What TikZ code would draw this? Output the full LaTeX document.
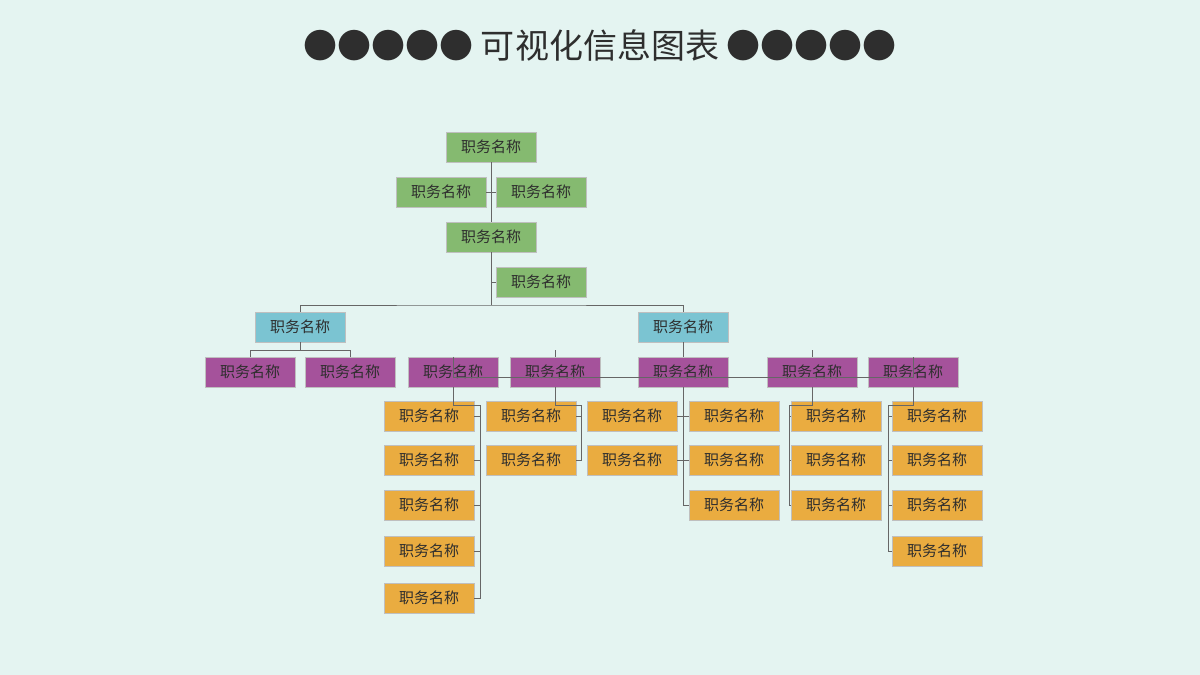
\documentclass[tikz,border=0pt]{standalone}
\usepackage{fontspec}
\newfontfamily\cjk{Noto Sans CJK SC}
\usepackage{tikz}
\usetikzlibrary{positioning}
\definecolor{bgc}{HTML}{E4F4F1}
\definecolor{grn}{HTML}{85BA70}
\definecolor{blu}{HTML}{7BC4D2}
\definecolor{pur}{HTML}{A5529B}
\definecolor{org}{HTML}{EAAC40}
\definecolor{txt}{HTML}{2E2E2E}
\tikzset{
  job/.style = {rectangle, minimum width=90pt, minimum height=30pt, inner sep=0pt,
    font=\cjk\fontsize{15}{15}\selectfont, text=txt, draw=black!25},
  job_g/.style = {job, fill=grn},% green
  job_b/.style = {job, fill=blu},% blue
  job_p/.style = {job, fill=pur},% purple
  job_o/.style = {job, fill=org},% orange
  link/.style = {draw=black!60, line width=0.9pt}
}
\begin{document}
\begin{tikzpicture}[x=1pt,y=-1pt]
\fill[bgc] (0,0) rectangle (1200,675);
\node[font=\cjk\fontsize{34}{34}\selectfont, text=txt] (title) at (600,45) {●●●●●\ 可视化信息图表\ ●●●●●};
% top
\node[job_g] (g1) at (491,147) {职务名称};
\node[job_g] (g2) at (441,192) {职务名称};
\node[job_g] (g3) at (541,192) {职务名称};
\node[job_g] (g4) at (491,237) {职务名称};
\node[job_g] (g5) at (541,282) {职务名称};
\node[job_b] (b1) at (300,327) {职务名称};
\node[job_b] (b2) at (683,327) {职务名称};
\foreach \n/\x in {1/250,2/350,3/453,4/555,5/683,6/812,7/913}
  \node[job_p] (p\n) at (\x,372) {职务名称};
% orange
\foreach \i/\y in {1/416,2/460,3/505,4/551,5/598}
  \node[job_o] (c3\i) at (429,\y) {职务名称};
\foreach \i/\y in {1/416,2/460}
  \node[job_o] (c4\i) at (531,\y) {职务名称};
\foreach \i/\y in {1/416,2/460}
  \node[job_o] (c5l\i) at (632,\y) {职务名称};
\foreach \i/\y in {1/416,2/460,3/505}
  \node[job_o] (c5r\i) at (734,\y) {职务名称};
\foreach \i/\y in {1/416,2/460,3/505}
  \node[job_o] (c6\i) at (836,\y) {职务名称};
\foreach \i/\y in {1/416,2/460,3/505,4/551}
  \node[job_o] (c7\i) at (937,\y) {职务名称};

\coordinate (hub) at (491,305);
\begin{scope}[on background layer/.style={}]
\draw[link] (g1) -- (g4) -- (hub);
\draw[link] (g2) -- (g3);
\draw[link] (g5.west) -| (hub);
\draw[link] (b1.north) |- (hub) -| (b2.north);
\draw[link] (b1.south) -- ++(0,8) coordinate (bl);
\draw[link] (p1.north) |- (bl) -| (p2.north);
\draw[link] (b2.south) -- (p5.north);
\draw[link] (p3.north) |- ([yshift=-21pt]p5.north) -| (p7.north);
\draw[link] (p4.north) -- ++(0,-7);
\draw[link] (p6.north) -- ++(0,-7);
% branches
\draw[link] (p3.south) -- ++(0,18) -| (480,598) -- (c35.east);
\foreach \i in {1,...,4} \draw[link] (c3\i.east) -- (480,0 |- c3\i);
\draw[link] (p4.south) -- ++(0,18) -| (581,460) -- (c42.east);
\draw[link] (c41.east) -- (581,0 |- c41);
\draw[link] (p5.south) -- (683,505) -- (c5r3.west);
\foreach \i in {1,2} \draw[link] (c5l\i.east) -- (c5r\i.west);
\draw[link] (p6.south) -- ++(0,18) -| (789,505) -- (c63.west);
\foreach \i in {1,2} \draw[link] (c6\i.west) -- (789,0 |- c6\i);
\draw[link] (p7.south) -- ++(0,18) -| (888,551) -- (c74.west);
\foreach \i in {1,2,3} \draw[link] (c7\i.west) -- (888,0 |- c7\i);
\end{scope}
\end{tikzpicture}
\end{document}
